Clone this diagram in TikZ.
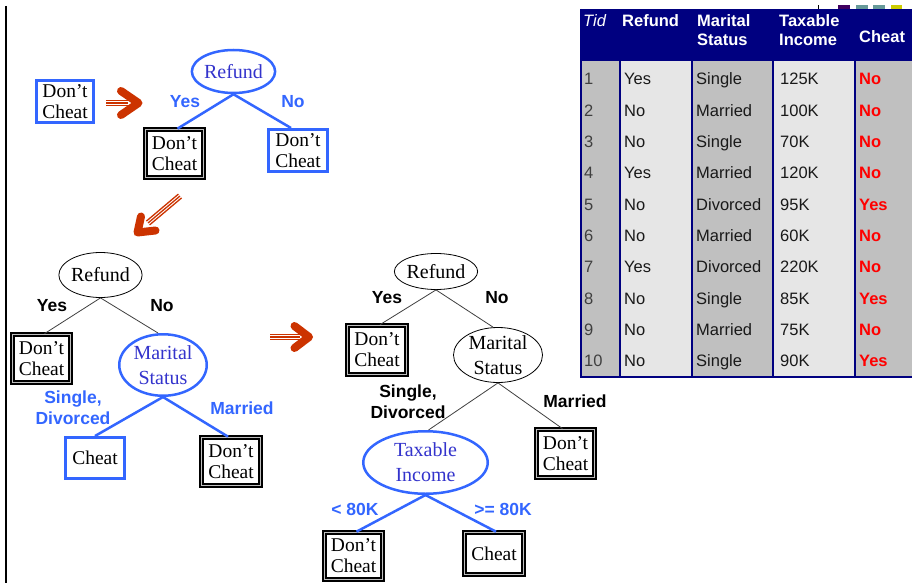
\documentclass[tikz,border=0pt]{standalone}
\usepackage{fontspec}
\setmainfont{Liberation Serif}
\newfontfamily\arialf{Liberation Sans}
\usetikzlibrary{shapes.geometric}
\definecolor{bl}{RGB}{51,102,255}
\definecolor{bltext}{RGB}{51,51,204}
\definecolor{navy}{RGB}{0,0,128}
\definecolor{arrred}{RGB}{204,51,0}
\definecolor{colgray}{RGB}{192,192,192}
\definecolor{collight}{RGB}{230,230,230}
\definecolor{tabred}{RGB}{255,0,0}
\definecolor{mkpurple}{RGB}{64,0,96}
\definecolor{mkteal}{RGB}{102,153,153}
\definecolor{mkyellow}{RGB}{204,204,0}
\begin{document}
\begin{tikzpicture}[x=1pt,y=-1pt,
  ell/.style={ellipse, inner xsep=0pt, inner ysep=-4pt, align=center, font=\fontsize{20}{25}\selectfont},
  ellblue/.style={ell, draw=bl, line width=2.5pt, text=bltext},
  ellblack/.style={ell, draw=black, line width=0.8pt},
  leaf/.style={rectangle, inner sep=0pt, align=center, fill=white, font=\fontsize{19.5}{21}\selectfont},
  leafblue/.style={leaf, draw=bl, line width=3pt},
  leafdbl/.style={leaf, draw=black, line width=1.7pt, double=gray!50, double distance=1.8pt},
  lab/.style={font=\arialf\bfseries\fontsize{17.5}{21}\selectfont, align=center, inner sep=0pt},
  labblue/.style={lab, text=bl},
  edgeblue/.style={draw=bl, line width=2.5pt},
  edgeblack/.style={draw=black!75, line width=0.8pt},
  arr/.style={draw=arrred, line width=8pt, line cap=round, line join=round},
  arrstripe/.style={draw=arrred, line width=1.3pt},
  tcell/.style={anchor=base west, inner sep=0pt, font=\arialf\fontsize{16.5}{19}\selectfont},
  thead/.style={anchor=west, inner sep=0pt, align=left, text=white, font=\arialf\bfseries\fontsize{16.5}{19}\selectfont},
]
\useasboundingbox (0,0) rectangle (912,583);
\fill[white] (0,0) rectangle (912,583);

% left vertical rule
\draw[line width=2.3pt] (6,6) -- (6,583);

% ---------- Tree 1 ----------
\node[leafblue, minimum width=57pt, minimum height=42pt] (d0) at (65,101.5) {Don’t\\Cheat};
\node[ellblue, minimum width=70pt, minimum height=43pt] (r1) at (233.5,71.5) {Refund};
\node[leafdbl, minimum width=58pt, minimum height=48pt] (l1) at (174.5,153.5) {Don’t\\Cheat};
\node[leafblue, minimum width=59pt, minimum height=42pt] (l2) at (298,150.5) {Don’t\\Cheat};
\draw[edgeblue] (r1.south) -- ([xshift=3pt]l1.north);
\draw[edgeblue] (r1.south) -- ([xshift=-7pt]l2.north);
\node[labblue] (y1) at (185,102) {Yes};
\node[labblue] (n1) at (293,102) {No};

% arrow 1
\draw[arrstripe] (106,100.5) -- (128,100.5);
\draw[arrstripe] (106,103) -- (128,103);
\draw[arrstripe] (106,105.5) -- (128,105.5);
\draw[arr] (121,91) -- (138.5,103) -- (121,115);

% arrow 2 (down-left)
\draw[arrstripe] (181.6,197.9) -- (149.6,224.9);
\draw[arrstripe] (180,196) -- (148,223);
\draw[arrstripe] (178.4,194.1) -- (146.4,221.1);
\draw[arr] (141,216.5) -- (137.5,232.5) -- (155.5,230.5);

% ---------- Tree 2 ----------
\node[ellblack, minimum width=72pt, minimum height=45pt] (r2) at (100.5,275) {Refund};
\node[leafdbl, minimum width=58pt, minimum height=48pt] (l3) at (41.5,358.5) {Don’t\\Cheat};
\node[ellblue, minimum width=87.5pt, minimum height=61.5pt] (m2) at (163,365) {Marital\\Status};
\node[leafblue, minimum width=59pt, minimum height=41pt] (l4) at (95,458) {Cheat};
\node[leafdbl, minimum width=59pt, minimum height=48pt] (l5) at (231,461.5) {Don’t\\Cheat};
\draw[edgeblack] (r2.south) -- ([xshift=3pt]l3.north);
\draw[edgeblack] (r2.south) -- ([xshift=-5pt]m2.north);
\draw[edgeblue] (m2.south) -- (l4.north);
\draw[edgeblue] (m2.south) -- ([xshift=-3pt]l5.north);
\node[lab] (y2) at (52,306) {Yes};
\node[lab] (n2) at (162,306) {No};
\node[labblue] (s2) at (73,408) {Single,\\Divorced};
\node[labblue] (mm2) at (242,408) {Married};

% arrow 3
\draw[arrstripe] (270,334.5) -- (300,334.5);
\draw[arrstripe] (270,337) -- (300,337);
\draw[arrstripe] (270,339.5) -- (300,339.5);
\draw[arr] (294.5,326) -- (309,337) -- (294.5,348);

% ---------- Tree 3 ----------
\node[ellblack, minimum width=71pt, minimum height=36pt] (r3) at (436,271.5) {Refund};
\node[leafdbl, minimum width=59pt, minimum height=49pt] (l6) at (377,350) {Don’t\\Cheat};
\node[ellblack, minimum width=89pt, minimum height=55pt] (m3) at (498,355) {Marital\\Status};
\node[ellblue, minimum width=124.5pt, minimum height=62.5pt] (t3) at (425.5,462.5) {Taxable\\Income};
\node[leafdbl, minimum width=58pt, minimum height=48pt] (l7) at (565.5,453.5) {Don’t\\Cheat};
\node[leafdbl, minimum width=58pt, minimum height=47pt] (l8) at (353.5,556) {Don’t\\Cheat};
\node[leafdbl, minimum width=59pt, minimum height=42pt] (l9) at (494,553.5) {Cheat};
\draw[edgeblack] (r3.south) -- ([xshift=3pt]l6.north);
\draw[edgeblack] (r3.south) -- ([xshift=-5pt]m3.north);
\draw[edgeblack] (m3.south) -- ([xshift=3pt]t3.north);
\draw[edgeblack] (m3.south) -- ([xshift=-3pt]l7.north);
\draw[edgeblue] (t3.south) -- ([xshift=3pt]l8.north);
\draw[edgeblue] (t3.south) -- ([xshift=2pt]l9.north);
\node[lab] (y3) at (387,298) {Yes};
\node[lab] (n3) at (497,298) {No};
\node[lab] (s3) at (408,402) {Single,\\Divorced};
\node[lab] (mm3) at (575,401) {Married};
\node[labblue] (lt3) at (355,509) {< 80K};
\node[labblue] (ge3) at (503,509) {>= 80K};

% ---------- Table ----------
\fill[black] (817.5,5) rectangle (818.5,9);
\fill[mkpurple] (838,5) rectangle (850,9);
\fill[mkteal] (856,5) rectangle (868,9);
\fill[mkteal] (873,5) rectangle (885,9);
\fill[mkyellow] (891,5) rectangle (902,9);

\fill[navy] (580,9) rectangle (915,61);
\fill[colgray] (580,61) rectangle (620,376);
\fill[collight] (620,61) rectangle (692,376);
\fill[colgray] (692,61) rectangle (773,376);
\fill[collight] (773,61) rectangle (855,376);
\fill[colgray] (855,61) rectangle (915,376);
\foreach \xx in {620,692,773,855} \draw[navy, line width=1.5pt] (\xx,61) -- (\xx,376);
\draw[navy, line width=2pt] (581,9) -- (581,377) -- (915,377);

\node[thead, font=\arialf\itshape\fontsize{16.5}{19}\selectfont] (hTid) at (583,21) {Tid};
\node[thead] (hRef) at (622,21) {Refund};
\node[thead] (hMar) at (697,30.5) {Marital\\Status};
\node[thead] (hTax) at (779,30.5) {Taxable\\Income};
\node[thead] (hChe) at (859,37) {Cheat};

\foreach \i/\a/\b/\c/\d in {1/Yes/Single/125K/No, 2/No/Married/100K/No, 3/No/Single/70K/No,
  4/Yes/Married/120K/No, 5/No/Divorced/95K/Yes, 6/No/Married/60K/No, 7/Yes/Divorced/220K/No,
  8/No/Single/85K/Yes, 9/No/Married/75K/No, 10/No/Single/90K/Yes} {
  \pgfmathsetmacro\yy{79+31.3*(\i-1)+6}
  \node[tcell, text=black!75] (tid\i) at (584,\yy) {\i};
  \node[tcell, text=black!90] (tref\i) at (624,\yy) {\a};
  \node[tcell, text=black!90] (tmar\i) at (696,\yy) {\b};
  \node[tcell, text=black!90] (ttax\i) at (780,\yy) {\c};
  \node[tcell, text=tabred, font=\arialf\bfseries\fontsize{16.5}{19}\selectfont] (tche\i) at (859,\yy) {\d};
}
\end{tikzpicture}
\end{document}
